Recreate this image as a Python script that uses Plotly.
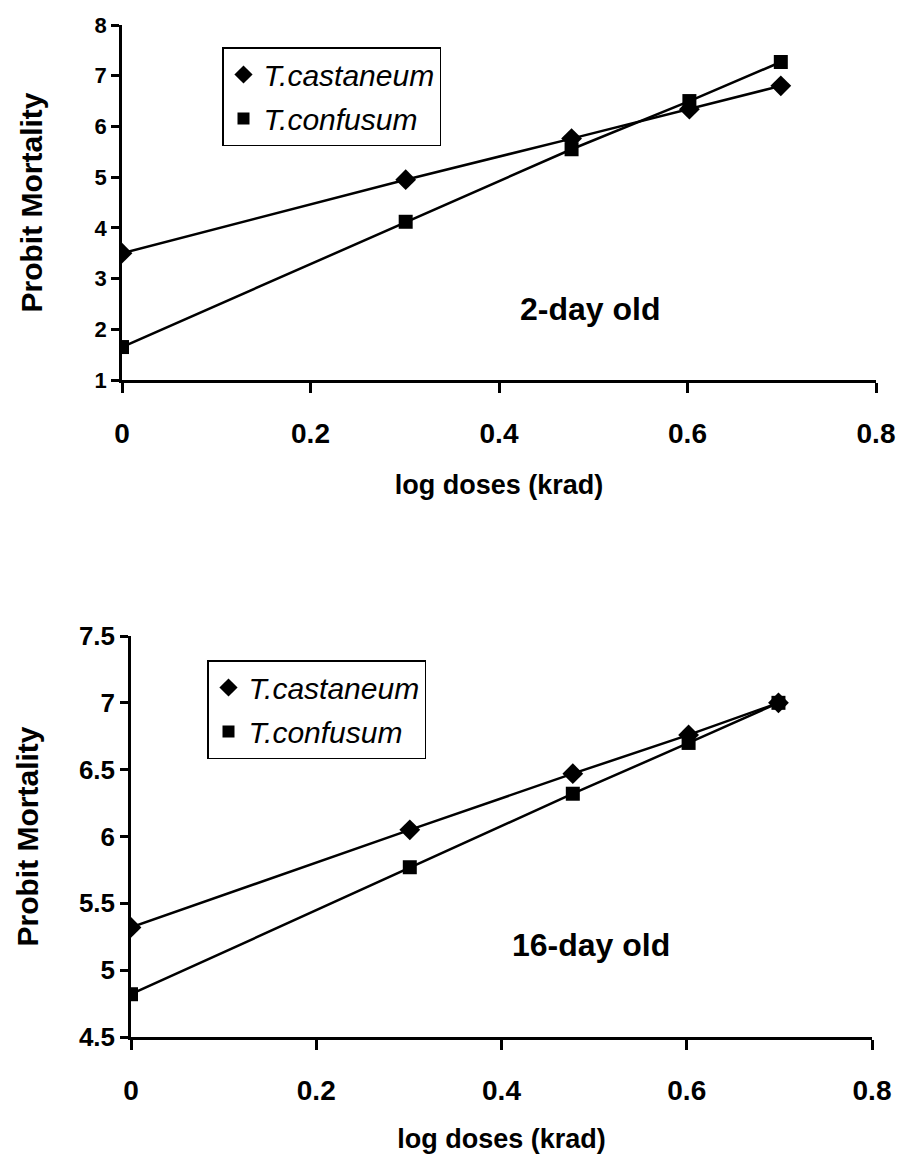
import plotly.graph_objects as go

log_dose = [0.0, 0.301, 0.477, 0.602, 0.699]

cast_2day = [3.50, 4.95, 5.76, 6.34, 6.80]
conf_2day = [1.65, 4.12, 5.55, 6.50, 7.27]

cast_16day = [5.32, 6.05, 6.47, 6.76, 7.00]
conf_16day = [4.82, 5.77, 6.32, 6.70, 7.00]

series_names = ["T.castaneum", "T.confusum"]
panel_labels = ["2-day old", "16-day old"]
x_ticks = [0, 0.2, 0.4, 0.6, 0.8]
x_ticktext = ["0", "0.2", "0.4", "0.6", "0.8"]
y_ticks_top = [1, 2, 3, 4, 5, 6, 7, 8]
y_ticktext_top = ["1", "2", "3", "4", "5", "6", "7", "8"]
y_ticks_bot = [4.5, 5, 5.5, 6, 6.5, 7, 7.5]
y_ticktext_bot = ["4.5", "5", "5.5", "6", "6.5", "7", "7.5"]

FONT = "Liberation Sans, Arial, sans-serif"
# page body has 8px margins; size the figure so the whole page is 906x1162
PW, PH = 890, 1146


def fx(px):
    return (px - 8) / PW


def fy(py):
    return 1 - (py - 8) / PH


fig = go.Figure()

line = dict(color="black", width=2.5)
mk_d = dict(symbol="diamond", size=16, color="black")
mk_s = dict(symbol="square", size=14, color="black")

panels = [
    ("x", "y", "legend", cast_2day, conf_2day),
    ("x2", "y2", "legend2", cast_16day, conf_16day),
]
for xa, ya, lg, cast, conf in panels:
    fig.add_trace(go.Scatter(x=log_dose, y=cast, name=series_names[0], mode="lines+markers",
                             line=line, marker=mk_d, xaxis=xa, yaxis=ya, showlegend=False))
    fig.add_trace(go.Scatter(x=log_dose, y=conf, name=series_names[1], mode="lines+markers",
                             line=line, marker=mk_s, xaxis=xa, yaxis=ya, showlegend=False))
    # legend entries (markers only, as in the original)
    fig.add_trace(go.Scatter(x=[None], y=[None], name=series_names[0], mode="markers",
                             marker=dict(symbol="diamond", size=14, color="black"),
                             xaxis=xa, yaxis=ya, legend=lg, legendgroup=lg + "a"))
    fig.add_trace(go.Scatter(x=[None], y=[None], name=series_names[1], mode="markers",
                             marker=dict(symbol="square", size=12, color="black"),
                             xaxis=xa, yaxis=ya, legend=lg, legendgroup=lg + "b"))


def xax(domain, anchor):
    return dict(domain=domain, anchor=anchor, range=[0, 0.8], tickvals=x_ticks, ticktext=x_ticktext,
                showline=True, linecolor="black", linewidth=2.5, ticks="outside", ticklen=10,
                tickwidth=2.5, tickcolor="black", showgrid=False, zeroline=False,
                automargin=False, ticklabeloverflow="allow",
                tickfont=dict(family=FONT, size=28, color="black", weight="bold"),
                ticklabelstandoff=17,
                title=dict(text="log doses (krad)", standoff=27,
                           font=dict(family=FONT, size=27, color="black", weight="bold")))


def yax(domain, anchor, rng, tv, tt, fs, so):
    return dict(domain=domain, anchor=anchor, range=rng, tickvals=tv, ticktext=tt,
                showline=True, linecolor="black", linewidth=2.5, ticks="outside", ticklen=8,
                tickwidth=2.5, tickcolor="black", showgrid=False, zeroline=False,
                automargin=False, ticklabeloverflow="allow",
                tickfont=dict(family=FONT, size=fs, color="black", weight="bold"),
                title=dict(text="Probit Mortality", standoff=so,
                           font=dict(family=FONT, size=30, color="black", weight="bold")))


legend_style = dict(xanchor="left", yanchor="top", bgcolor="white", bordercolor="black",
                    borderwidth=1.5, tracegroupgap=2, itemwidth=30,
                    font=dict(family=FONT, size=30, color="black", style="italic"))

fig.update_layout(
    width=PW, height=PH,
    margin=dict(l=0, r=0, t=0, b=0, autoexpand=False),
    paper_bgcolor="white", plot_bgcolor="white",
    xaxis=xax([fx(122), fx(876)], "y"),
    yaxis=yax([fy(380), fy(25)], "x", [1, 8], y_ticks_top, y_ticktext_top, 22, 44),
    xaxis2=xax([fx(131), fx(872)], "y2"),
    yaxis2=yax([fy(1037), fy(636)], "x2", [4.5, 7.5], y_ticks_bot, y_ticktext_bot, 26, 32),
    legend=dict(x=fx(222), y=fy(47), **legend_style),
    legend2=dict(x=fx(207), y=fy(660), **legend_style),
    annotations=[
        dict(text=panel_labels[0], x=0.497, y=2.4, xref="x", yref="y", showarrow=False,
             font=dict(family=FONT, size=32, color="black", weight="bold")),
        dict(text=panel_labels[1], x=0.497, y=5.19, xref="x2", yref="y2", showarrow=False,
             font=dict(family=FONT, size=32, color="black", weight="bold")),
    ],
)

fig.write_html("out.html")
